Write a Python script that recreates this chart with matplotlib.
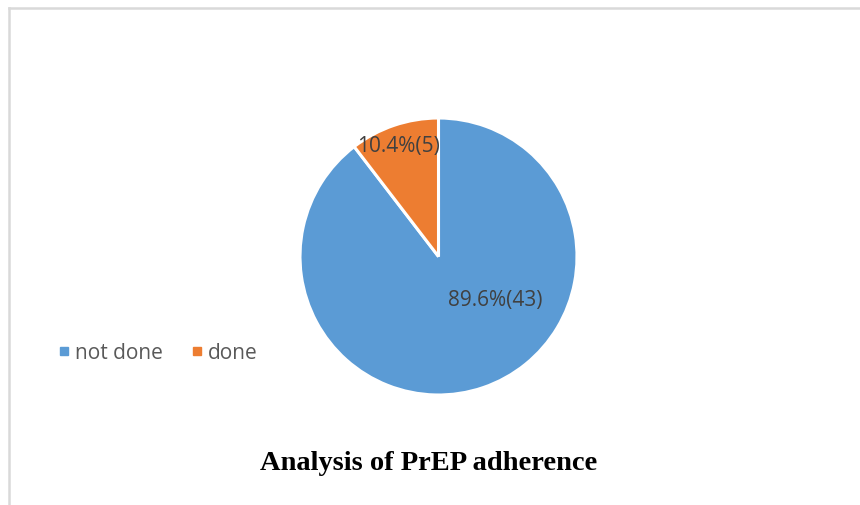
import matplotlib
matplotlib.use("Agg")
import matplotlib.pyplot as plt
from matplotlib.lines import Line2D

categories = ["not done", "done"]
counts = [43, 5]
colors = ["#5B9BD5", "#ED7D31"]
title = "Analysis of PrEP adherence"

W, H = 860, 506
fig = plt.figure(figsize=(W / 100, H / 100), dpi=100)
fig.patch.set_facecolor("white")

# chart area border (only top and left edges fall inside the canvas)
fig.add_artist(Line2D([8.5 / W, 8.5 / W], [0, 1 - 8.5 / H], color="#D9D9D9", lw=1.8,
                      transform=fig.transFigure))
fig.add_artist(Line2D([8.5 / W, 1], [1 - 8.5 / H, 1 - 8.5 / H], color="#D9D9D9", lw=1.8,
                      transform=fig.transFigure))

# pie plot area
cx, cy, r = 438.5, 257.5, 138.5
ax = fig.add_axes([(cx - r) / W, (H - cy - r) / H, 2 * r / W, 2 * r / H])
wedges, _ = ax.pie(counts, colors=colors, startangle=90, counterclock=False,
                   radius=1.0, wedgeprops=dict(edgecolor="white", linewidth=2.2))
ax.set_xlim(-1, 1)
ax.set_ylim(-1, 1)
ax.set_aspect("equal")
ax.axis("off")

total = sum(counts)
label_pos = [(0.41, -0.31), (-0.29, 0.80)]
for n, (x, y) in zip(counts, label_pos):
    ax.text(x, y, f"{n / total * 100:.1f}%({n})", ha="center", va="center",
            fontsize=15, color="#404040", family="Open Sans")

# legend
handles = [Line2D([], [], marker="s", linestyle="none", markersize=6,
                  markerfacecolor=c, markeredgecolor=c) for c in colors]
fig.legend(handles, categories, loc="center left",
           bbox_to_anchor=(40 / W, 1 - 354 / H), ncol=2, frameon=False,
           handlelength=0.5, handletextpad=0.3, columnspacing=1.36,
           prop=dict(family="Open Sans", size=15), labelcolor="#595959")

fig.text(428.5 / W, 1 - 463 / H, title, ha="center", va="center",
         fontsize=20.5, fontweight="bold", family="Liberation Serif", color="black")

fig.savefig("out.png", dpi=100, facecolor="white")
